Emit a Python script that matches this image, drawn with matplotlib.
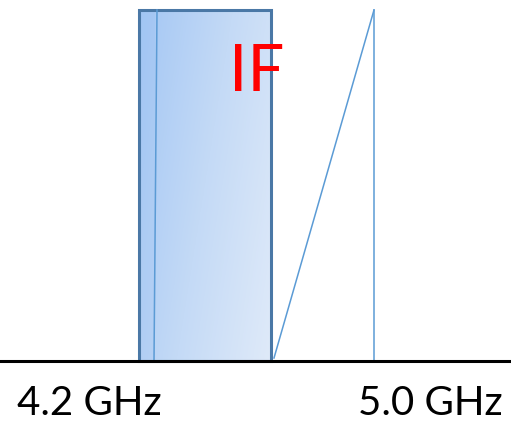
import matplotlib
matplotlib.use("Agg")
import matplotlib.pyplot as plt
import numpy as np
from matplotlib.patches import Rectangle
from matplotlib.colors import LinearSegmentedColormap

# --- data (diagram units: x in px-like frequency units, y height above baseline) ---
if_band_x = [139, 271]          # IF block left/right
if_band_height = 351
ramp_x = [274, 374]             # sawtooth ramp start / top
ramp_height = [3, 351]
marker_line_x = [154, 157]      # near-vertical line bottom/top x
freq_labels = ["4.2 GHz", "5.0 GHz"]
freq_label_x = [89, 430]
if_label = "IF"
if_label_pos = (257, 294)

W, H = 511, 422
fig = plt.figure(figsize=(W / 100, H / 100), dpi=100)
ax = fig.add_axes([0, 0, 1, 1])
ax.set_xlim(0, W)
ax.set_ylim(-61, 361)
ax.axis("off")

# gradient fill for IF block
cmap = LinearSegmentedColormap.from_list("g", ["#a4c7f4", "#c4daf6", "#dfeaf9"])
nx, ny = 200, 200
xx, yy = np.meshgrid(np.linspace(0, 1, nx), np.linspace(0, 1, ny))
grad = 0.7 * xx + 0.3 * (1 - yy)
im = ax.imshow(grad, cmap=cmap, extent=[if_band_x[0], if_band_x[1], 0, if_band_height],
               origin="lower", aspect="auto", zorder=1, vmin=0, vmax=1)
rect = Rectangle((if_band_x[0], 0), if_band_x[1] - if_band_x[0], if_band_height,
                 facecolor="none", edgecolor="#4a78a6", linewidth=2.2, zorder=3)
ax.add_patch(rect)
im.set_clip_path(rect)

# slightly darker left strip
ax.add_patch(Rectangle((if_band_x[0], 0), marker_line_x[0] - if_band_x[0] + 1, if_band_height,
                       facecolor="#8ab8f0", alpha=0.12, edgecolor="none", zorder=2))

# thin blue lines
lc = "#5b9bd5"
ax.plot(marker_line_x, [0, if_band_height], color=lc, lw=1.1, zorder=4)
ax.plot(ramp_x, ramp_height, color=lc, lw=1.1, zorder=4)
ax.plot([ramp_x[1], ramp_x[1]], [0, ramp_height[1]], color=lc, lw=1.1, zorder=4)

# baseline
ax.plot([0, W], [0, 0], color="black", lw=2.2, zorder=5)

# labels
for lab, x in zip(freq_labels, freq_label_x):
    ax.text(x, -39, lab, fontsize=29, family="Lato", ha="center", va="center_baseline",
            color="black")
ax.text(if_label_pos[0], if_label_pos[1], if_label, fontsize=47, family="Lato",
        ha="center", va="center_baseline", color="#ff0000", zorder=6)

fig.savefig("out.png", dpi=100)
